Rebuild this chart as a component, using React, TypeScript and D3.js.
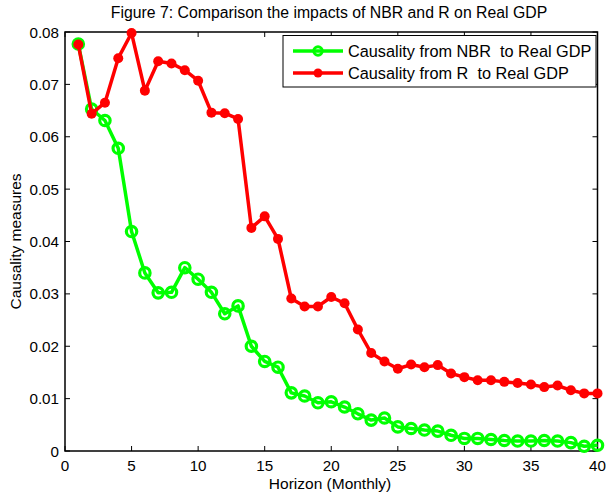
import { useEffect, useRef } from "react";
import * as d3 from "d3";

const W = 606;
const H = 495;
const M = { left: 65, right: 8, top: 32, bottom: 44 };

const horizon = d3.range(1, 41);
const nbr = [
  0.0777, 0.0653, 0.0631, 0.0578, 0.0419, 0.034, 0.0302, 0.0303, 0.035, 0.0328,
  0.0303, 0.0262, 0.0277, 0.02, 0.0171, 0.016, 0.0111, 0.0105, 0.0092, 0.0094,
  0.0084, 0.0071, 0.0059, 0.0063, 0.0046, 0.0043, 0.004, 0.0038, 0.003, 0.0024,
  0.0024, 0.0022, 0.002, 0.0019, 0.0019, 0.002, 0.0019, 0.0016, 0.0009, 0.0011,
];
const rate = [
  0.0776, 0.0644, 0.0665, 0.075, 0.0798, 0.0688, 0.0744, 0.074, 0.0727, 0.0707,
  0.0646, 0.0645, 0.0634, 0.0426, 0.0448, 0.0405, 0.0291, 0.0276, 0.0276, 0.0294,
  0.0282, 0.0232, 0.0187, 0.0171, 0.0157, 0.0165, 0.016, 0.0164, 0.0148, 0.0141,
  0.0135, 0.0135, 0.0132, 0.013, 0.0127, 0.0122, 0.0125, 0.0116, 0.011, 0.011,
];
const xTicks = [0, 5, 10, 15, 20, 25, 30, 35, 40];
const yTicks = [0, 0.01, 0.02, 0.03, 0.04, 0.05, 0.06, 0.07, 0.08];
const seriesNames = ["Causality from NBR  to Real GDP", "Causality from R  to Real GDP"];

const FONT = "'Liberation Sans', Arial, sans-serif";

export default function App() {
  const ref = useRef<SVGSVGElement>(null);

  useEffect(() => {
    const svg = d3.select(ref.current);
    svg.selectAll("*").remove();

    const x = d3.scaleLinear().domain([0, 40]).range([M.left, W - M.right - 0.5]);
    const y = d3.scaleLinear().domain([0, 0.08]).range([H - M.bottom, M.top]);

    const g = svg.append("g").attr("font-family", FONT);

    g.append("text")
      .attr("x", 329)
      .attr("y", 18)
      .attr("text-anchor", "middle")
      .attr("font-size", 15.8)
      .text("Figure 7: Comparison the impacts of NBR and R on Real GDP");

    // ticks (inward, all four sides)
    const tk = 5;
    const [x0, x1] = x.range();
    const [y0, y1] = y.range();
    xTicks.forEach((t) => {
      g.append("line").attr("x1", x(t)).attr("x2", x(t)).attr("y1", y0).attr("y2", y0 - tk).attr("stroke", "#000");
      g.append("line").attr("x1", x(t)).attr("x2", x(t)).attr("y1", y1).attr("y2", y1 + tk).attr("stroke", "#000");
      g.append("text")
        .attr("x", x(t))
        .attr("y", y0 + 19.5)
        .attr("text-anchor", "middle")
        .attr("font-size", 15.2)
        .text(d3.format("d")(t));
    });
    yTicks.forEach((t) => {
      g.append("line").attr("x1", x0).attr("x2", x0 + tk).attr("y1", y(t)).attr("y2", y(t)).attr("stroke", "#000");
      g.append("line").attr("x1", x1).attr("x2", x1 - tk).attr("y1", y(t)).attr("y2", y(t)).attr("stroke", "#000");
      g.append("text")
        .attr("x", x0 - 6)
        .attr("y", y(t) + 5.5)
        .attr("text-anchor", "end")
        .attr("font-size", 15.2)
        .text(t === 0 ? "0" : d3.format(".2f")(t));
    });

    g.append("rect")
      .attr("x", x0)
      .attr("y", y1)
      .attr("width", x1 - x0)
      .attr("height", y0 - y1)
      .attr("fill", "none")
      .attr("stroke", "#000")
      .attr("stroke-width", 1.5);

    g.append("text")
      .attr("x", 330)
      .attr("y", 489)
      .attr("text-anchor", "middle")
      .attr("font-size", 15.5)
      .text("Horizon (Monthly)");

    g.append("text")
      .attr("transform", `translate(21,${(y0 + y1) / 2}) rotate(-90)`)
      .attr("text-anchor", "middle")
      .attr("font-size", 15.5)
      .text("Causality measures");

    const line = d3
      .line<number>()
      .x((_, i) => x(horizon[i]))
      .y((d) => y(d));

    // green NBR series
    g.append("path").attr("d", line(nbr)).attr("fill", "none").attr("stroke", "#00ff00").attr("stroke-width", 3.5).attr("stroke-linejoin", "round");
    g.append("g")
      .selectAll("circle")
      .data(nbr)
      .join("circle")
      .attr("cx", (_, i) => x(horizon[i]))
      .attr("cy", (d) => y(d))
      .attr("r", 5.2)
      .attr("fill", "none")
      .attr("stroke", "#00ff00")
      .attr("stroke-width", 3.2);

    // red R series
    g.append("path").attr("d", line(rate)).attr("fill", "none").attr("stroke", "#ff0000").attr("stroke-width", 3.5).attr("stroke-linejoin", "round");
    g.append("g")
      .selectAll("circle")
      .data(rate)
      .join("circle")
      .attr("cx", (_, i) => x(horizon[i]))
      .attr("cy", (d) => y(d))
      .attr("r", 5)
      .attr("fill", "#ff0000");

    // legend
    const lg = g.append("g");
    lg.append("rect")
      .attr("x", 283)
      .attr("y", 35.5)
      .attr("width", 596 - 283)
      .attr("height", 51.5)
      .attr("fill", "#fff")
      .attr("stroke", "#000")
      .attr("stroke-width", 1);
    const colors = ["#00ff00", "#ff0000"];
    seriesNames.forEach((name, i) => {
      const ly = 51 + i * 22;
      lg.append("line").attr("x1", 293).attr("x2", 343).attr("y1", ly).attr("y2", ly).attr("stroke", colors[i]).attr("stroke-width", 3.5);
      if (i === 0) {
        lg.append("circle").attr("cx", 318).attr("cy", ly).attr("r", 4.2).attr("fill", "none").attr("stroke", colors[i]).attr("stroke-width", 3);
      } else {
        lg.append("circle").attr("cx", 318).attr("cy", ly).attr("r", 4.5).attr("fill", colors[i]);
      }
      lg.append("text")
        .attr("x", 348)
        .attr("y", ly + 6)
        .attr("font-size", 16.3)
        .attr("xml:space", "preserve")
        .style("white-space", "pre")
        .text(name);
    });
  }, []);

  return (
    <svg
      ref={ref}
      width={W}
      height={H}
      style={{ position: "absolute", left: 0, top: 0, background: "#fff" }}
    />
  );
}
